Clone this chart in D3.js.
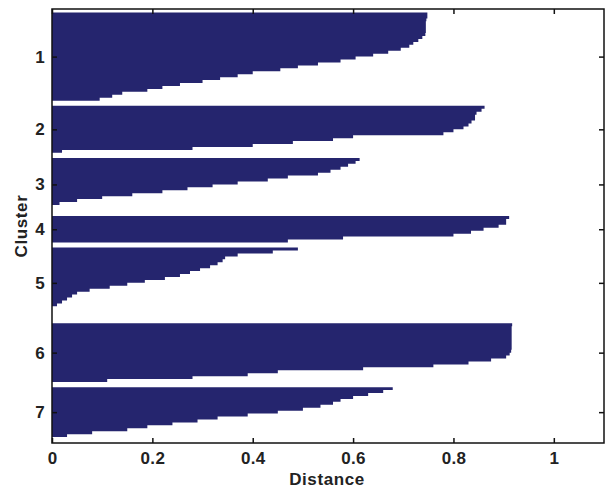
<!DOCTYPE html>
<html>
<head>
<meta charset="utf-8">
<script src="https://cdn.jsdelivr.net/npm/d3@7"></script>
<style>
    body { margin: 0; background: #fff; }
    .axis text { font-family: "Liberation Sans", Arial, sans-serif; font-size: 17px; font-weight: bold; fill: #222; letter-spacing: 0.3px; }
    .axis path, .axis line { stroke: #111; stroke-width: 1.5; }
    .title { font-family: "Liberation Sans", Arial, sans-serif; font-size: 17px; font-weight: bold; fill: #222; letter-spacing: 0.6px; }
</style>
</head>
<body>
<svg class="graph"></svg>
<script>
// silhouette values per cluster, sorted top to bottom
let clusters = ["1", "2", "3", "4", "5", "6", "7"]
let sil_1 = [0.748, 0.748, 0.746, 0.745, 0.745, 0.745, 0.745, 0.744, 0.738, 0.73,
    0.72, 0.712, 0.695, 0.67, 0.64, 0.605, 0.575, 0.53, 0.49, 0.455,
    0.40, 0.37, 0.335, 0.30, 0.255, 0.22, 0.19, 0.14, 0.12, 0.095]
let sil_2 = [0.862, 0.856, 0.846, 0.843, 0.843, 0.836, 0.83, 0.82, 0.80, 0.78,
    0.60, 0.56, 0.48, 0.40, 0.28, 0.02]
let sil_3 = [0.613, 0.605, 0.59, 0.575, 0.555, 0.53, 0.47, 0.43, 0.37, 0.32,
    0.27, 0.22, 0.16, 0.10, 0.05, 0.015, 0, 0]
let sil_4 = [0.911, 0.905, 0.905, 0.89, 0.86, 0.835, 0.80, 0.58, 0.47]
let sil_5 = [0.49, 0.44, 0.37, 0.345, 0.34, 0.33, 0.315, 0.295, 0.275, 0.255,
    0.225, 0.185, 0.15, 0.115, 0.075, 0.05, 0.04, 0.03, 0.02, 0.01,
    0, 0, 0, 0]
let sil_6 = [0.917, 0.916, 0.916, 0.916, 0.916, 0.916, 0.916, 0.916, 0.916, 0.915,
    0.912, 0.905, 0.875, 0.83, 0.76, 0.62, 0.45, 0.39, 0.28, 0.11]
let sil_7 = [0.679, 0.66, 0.63, 0.60, 0.575, 0.56, 0.535, 0.50, 0.45, 0.39,
    0.33, 0.29, 0.24, 0.19, 0.15, 0.08, 0.03]
let all_sil = [sil_1, sil_2, sil_3, sil_4, sil_5, sil_6, sil_7]
let x_ticks = [0, 0.2, 0.4, 0.6, 0.8, 1]

let width = 605, height = 490
let gap = 1.75
let bar_color = "#25256e"

var svg = d3.select(".graph")
    .attr("width", width)
    .attr("height", height)

// lay the points out one after the other, with a gap between clusters
var groups = []
var centers = []
let pos = 0
all_sil.forEach((vals, c) => {
    let start = pos
    let pts = []
    for (let v of vals) {
        pts.push({ "p": pos, "v": v })
        pts.push({ "p": pos + 1, "v": v })
        pos++
    }
    groups.push(pts)
    centers.push(start + vals.length / 2)
    pos += gap
})

var x = d3.scaleLinear().domain([0, 1.1]).range([52, 604])
var y = d3.scaleLinear().domain([-1.2, pos - gap + 2]).range([9, 443])

var area = d3.area()
    .y((d) => { return y(d.p) })
    .x0(x(0))
    .x1((d) => { return x(d.v) })

svg.selectAll(".cluster")
    .data(groups)
    .enter().append("path")
    .attr("class", "cluster")
    .attr("d", area)
    .attr("fill", bar_color)

svg.append("g")
    .attr("class", "axis")
    .attr("transform", "translate(0," + y.range()[1] + ")")
    .call(d3.axisBottom(x).tickValues(x_ticks).tickSize(-5).tickPadding(9)
        .tickFormat((d) => { return d == 0 || d == 1 ? d : d.toFixed(1) }))

svg.append("g")
    .attr("class", "axis")
    .attr("transform", "translate(0," + y.range()[0] + ")")
    .call(d3.axisTop(x).tickValues(x_ticks).tickSize(-5).tickFormat(""))

svg.append("g")
    .attr("class", "axis")
    .attr("transform", "translate(" + x.range()[0] + ",0)")
    .call(d3.axisLeft(y).tickValues(centers).tickSize(-5).tickPadding(7)
        .tickFormat((d, i) => { return clusters[i] }))

svg.append("g")
    .attr("class", "axis")
    .attr("transform", "translate(" + x.range()[1] + ",0)")
    .call(d3.axisRight(y).tickValues(centers).tickSize(-5).tickFormat(""))

svg.selectAll(".axis .domain").attr("d", null)

svg.append("rect")
    .attr("x", x.range()[0])
    .attr("y", y.range()[0])
    .attr("width", x.range()[1] - x.range()[0])
    .attr("height", y.range()[1] - y.range()[0])
    .attr("fill", "none")
    .attr("stroke", "#111")
    .attr("stroke-width", 1.5)

svg.append("text")
    .attr("class", "title")
    .attr("x", 327)
    .attr("y", 485)
    .attr("text-anchor", "middle")
    .text("Distance")

svg.append("text")
    .attr("class", "title")
    .attr("transform", "translate(27,226) rotate(-90)")
    .attr("text-anchor", "middle")
    .text("Cluster")
</script>
</body>
</html>
